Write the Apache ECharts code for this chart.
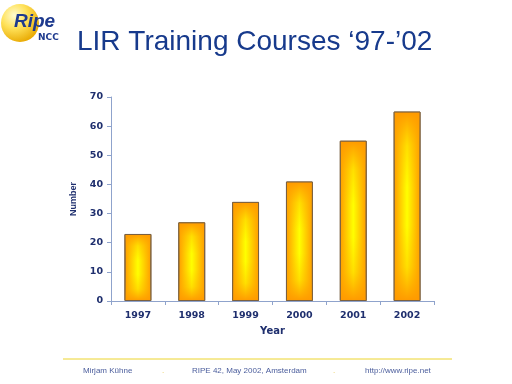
<!DOCTYPE html>
<html><head><meta charset="utf-8">
<script src="https://cdn.jsdelivr.net/npm/echarts@6/dist/echarts.min.js"></script>
<style>html,body{margin:0;padding:0;background:#fff}#c{width:512px;height:384px}</style>
</head><body><div id="c"></div>
<script>
var years = ['1997','1998','1999','2000','2001','2002'];
var courses = [23, 27, 34, 41, 55, 65];
var yTicks = [0,10,20,30,40,50,60,70];
var titleText = 'LIR Training Courses \u201897-\u201902';
var footer = ['Mirjam K\u00fchne', 'RIPE 42, May 2002, Amsterdam', 'http://www.ripe.net'];

var navy = '#1f2f6e';
var chart = echarts.init(document.getElementById('c'), null, {renderer:'canvas'});
chart.setOption({
  backgroundColor:'#ffffff',
  animation:false,
  grid:{left:111, right:78, top:97, bottom:83, containLabel:false},
  xAxis:{
    type:'category', data:years,
    name:'Year', nameLocation:'middle', nameGap:25,
    nameTextStyle:{color:navy, fontWeight:'bold', fontSize:10, fontFamily:'DejaVu Sans'},
    axisLine:{lineStyle:{color:'#8fa3cc', width:1}},
    axisTick:{show:true, length:4, lineStyle:{color:'#8fa3cc'}},
    axisLabel:{color:navy, fontWeight:'bold', fontSize:9.5, fontFamily:'DejaVu Sans', margin:10}
  },
  yAxis:{
    type:'value', min:0, max:70, interval:10,
    name:'Number', nameLocation:'middle', nameGap:33,
    nameTextStyle:{color:navy, fontWeight:'bold', fontSize:9, fontFamily:'Liberation Sans'},
    axisLine:{show:true, lineStyle:{color:'#8fa3cc', width:1}},
    axisTick:{show:true, length:4, lineStyle:{color:'#8fa3cc'}},
    splitLine:{show:false},
    axisLabel:{color:navy, fontWeight:'bold', fontSize:9.5, fontFamily:'DejaVu Sans', margin:8,
      formatter:function(v){return yTicks.indexOf(v)>=0?String(v):'';}}
  },
  series:[{
    type:'bar', data:courses, barWidth:'50%',
    itemStyle:{
      color:{type:'linear',x:0,y:0,x2:1,y2:0,colorStops:[
        {offset:0,color:'#ff9900'},{offset:0.5,color:'#ffff00'},{offset:1,color:'#ff9900'}]},
      borderColor:'#7a6040', borderWidth:1
    }
  },{
    type:'bar', data:courses, barWidth:'50%', barGap:'-100%', silent:true,
    itemStyle:{
      color:{type:'linear',x:0,y:0,x2:0,y2:1,colorStops:[
        {offset:0,color:'rgba(255,153,0,1)'},{offset:0.18,color:'rgba(255,165,0,0.35)'},
        {offset:0.4,color:'rgba(255,170,0,0)'},{offset:0.6,color:'rgba(255,170,0,0)'},
        {offset:0.82,color:'rgba(255,165,0,0.35)'},{offset:1,color:'rgba(255,153,0,1)'}]},
      borderColor:'#7a6040', borderWidth:1
    }
  }],
  graphic:[
    {type:'circle', shape:{cx:20, cy:23, r:19}, z:1,
     style:{fill:{type:'radial',x:0.35,y:0.3,r:0.75,colorStops:[
       {offset:0,color:'#fffbd0'},{offset:0.45,color:'#ffe25a'},{offset:1,color:'#e8a800'}]}}},
    {type:'text', left:14, top:12, z:2,
     style:{text:'Ripe', fill:'#1e3a8e', font:'italic bold 19px "Liberation Sans"'}},
    {type:'text', left:38, top:33, z:2,
     style:{text:'NCC', fill:'#1e3a8e', font:'bold 9px "DejaVu Sans"'}},
    {type:'text', left:77, top:28, z:2,
     style:{text:titleText, fill:'#173a8c', font:'28px "Liberation Sans"'}},
    {type:'line', shape:{x1:63, y1:359, x2:452, y2:359}, style:{stroke:'#ecd42c', lineWidth:1}},
    {type:'text', left:83, top:367, style:{text:footer[0], fill:'#4b5d9c', font:'8px "Liberation Sans"'}},
    {type:'text', left:162, top:367, style:{text:'.', fill:'#e8c84a', font:'8px "Liberation Sans"'}},
    {type:'text', left:192, top:367, style:{text:footer[1], fill:'#4b5d9c', font:'8px "Liberation Sans"'}},
    {type:'text', left:333, top:367, style:{text:'.', fill:'#e8c84a', font:'8px "Liberation Sans"'}},
    {type:'text', left:365, top:367, style:{text:footer[2], fill:'#4b5d9c', font:'8px "Liberation Sans"'}}
  ]
});
</script></body></html>
